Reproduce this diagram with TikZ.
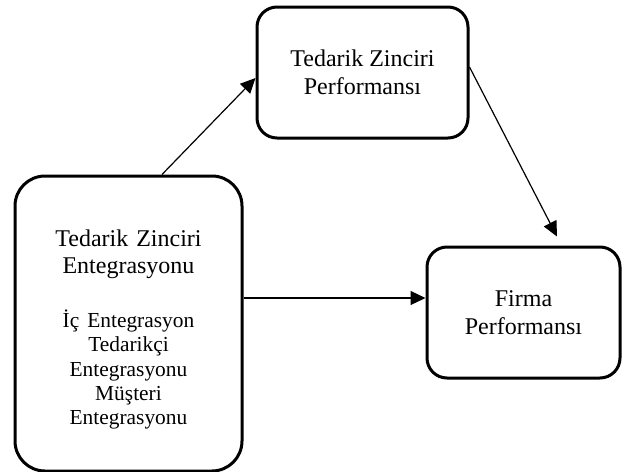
\documentclass[tikz,border=0pt]{standalone}
\usepackage{fontspec}
\setmainfont{Liberation Serif}
\usepackage{tikz}
\usetikzlibrary{arrows.meta,positioning,calc}

\begin{document}
\begin{tikzpicture}[x=0.5pt, y=-0.5pt, >={Triangle[length=7.5pt,width=7pt]},
  box/.style={draw, line width=1.5pt, rounded corners=10pt, align=center,
    inner sep=0pt, font=\fontsize{12}{13.8}\selectfont},
  link/.style={->, line width=0.6pt}]
\useasboundingbox (0,0) rectangle (628,472);
% ---------- boxes ----------
\node[box, rounded corners=15pt, minimum width=113.5pt, minimum height=147.5pt,
  text width=110pt] (szEnt) at (128.5,323.5)
  {\centering\parskip=0pt \rule{0pt}{14.5pt}Tedarik Zinciri\par Entegrasyonu\par\vspace{14.5pt}
   \fontsize{10.7}{12.2}\selectfont
   İç Entegrasyon\par Tedarikçi\par Entegrasyonu\par Müşteri\par Entegrasyonu\par};
\node[box, minimum width=105.5pt, minimum height=65.5pt] (szPerf) at (362.5,72.5)
  {Tedarik Zinciri\\ Performansı};
\node[box, minimum width=96.5pt, minimum height=65.5pt] (firmaPerf) at (523.5,312.5)
  {Firma\\ Performansı};
% ---------- arrows ----------
\coordinate (fpTip) at ([xshift=16.75pt,yshift=4.5pt]firmaPerf.north);
\draw[link] ([xshift=16.75pt]szEnt.north) -- ([yshift=-2.75pt]szPerf.west);
\draw[link] ([yshift=2.75pt]szPerf.east) -- (fpTip);
\draw[link] ([yshift=12.75pt]szEnt.east) -- ([yshift=12.75pt]szEnt.east -| firmaPerf.west);
\end{tikzpicture}
\end{document}
